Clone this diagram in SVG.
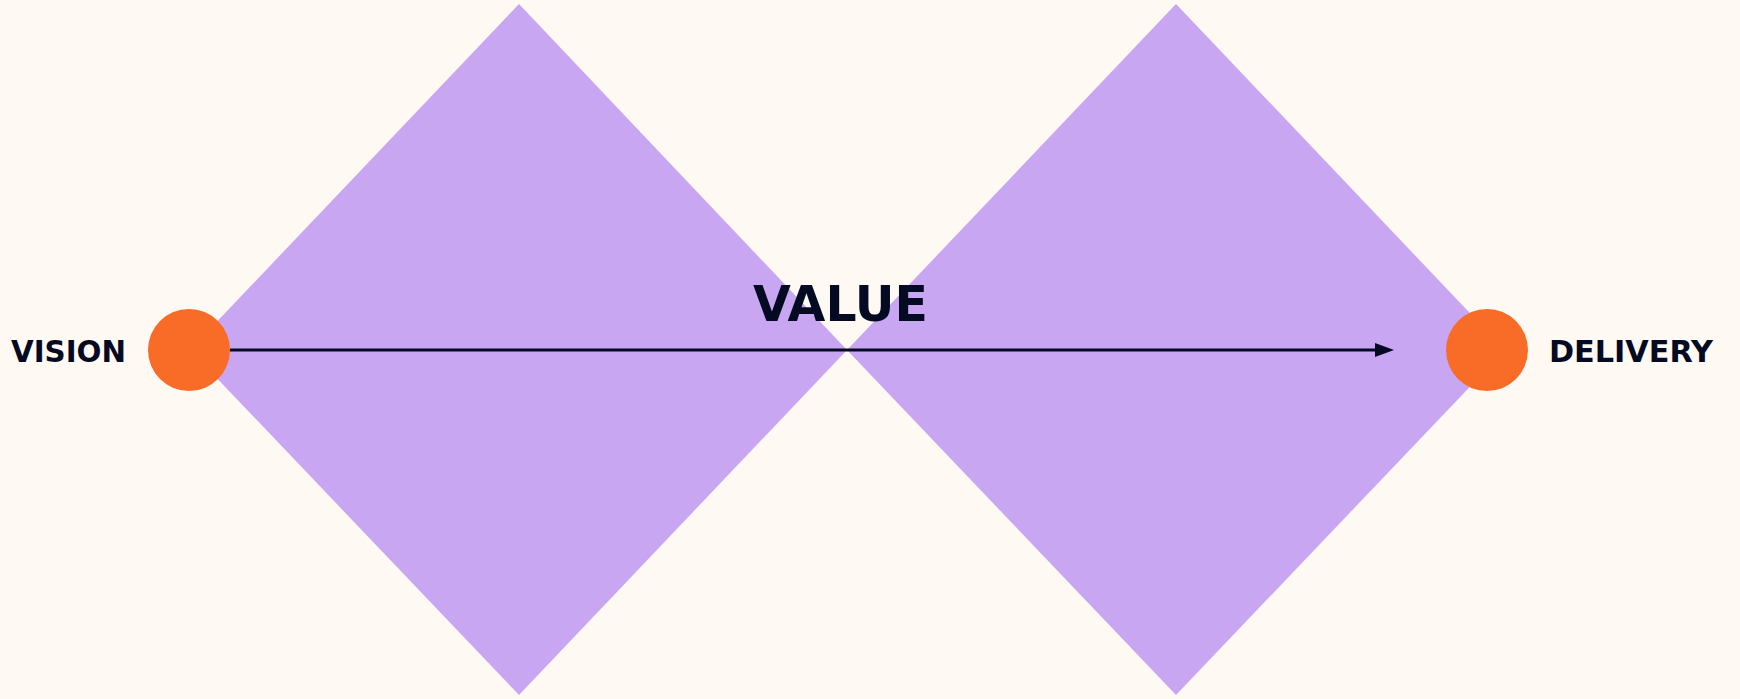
<svg xmlns="http://www.w3.org/2000/svg" width="1740" height="699" viewBox="0 0 1740 699">
  <style>
    .diamond { fill: #C9A6F2; }
    .dot { fill: #F96C27; }
    .label { font-family: "DejaVu Sans", "Liberation Sans", sans-serif; font-weight: 700; fill: #040A22; }
    .conn { stroke: #040A22; stroke-width: 3; fill: none; }
  </style>
  <defs>
    <marker id="arrow" markerUnits="userSpaceOnUse" markerWidth="20" markerHeight="14" refX="0" refY="7" orient="auto">
      <polygon points="0,0 19,7 0,14" fill="#040A22"/>
    </marker>
  </defs>
  <rect width="1740" height="699" fill="#FEF9F3"/>
  <g id="diamond-left"><polygon class="diamond" points="190,350 519,4 847,350 519,695"/></g>
  <g id="diamond-right"><polygon class="diamond" points="847,350 1176,4 1505,350 1176,695"/></g>
  <g id="connectors">
    <line class="conn" x1="230" y1="350" x2="1375" y2="350" marker-end="url(#arrow)"/>
  </g>
  <g id="vision">
    <circle class="dot" cx="189" cy="350" r="41"/>
    <text class="label" x="11" y="362" font-size="31" textLength="115" lengthAdjust="spacingAndGlyphs">VISION</text>
  </g>
  <g id="delivery">
    <circle class="dot" cx="1487" cy="350" r="41"/>
    <text class="label" x="1549" y="362" font-size="31" textLength="164" lengthAdjust="spacingAndGlyphs">DELIVERY</text>
  </g>
  <g id="value">
    <text class="label" x="753" y="321" font-size="49" textLength="175" lengthAdjust="spacingAndGlyphs">VALUE</text>
  </g>
</svg>
